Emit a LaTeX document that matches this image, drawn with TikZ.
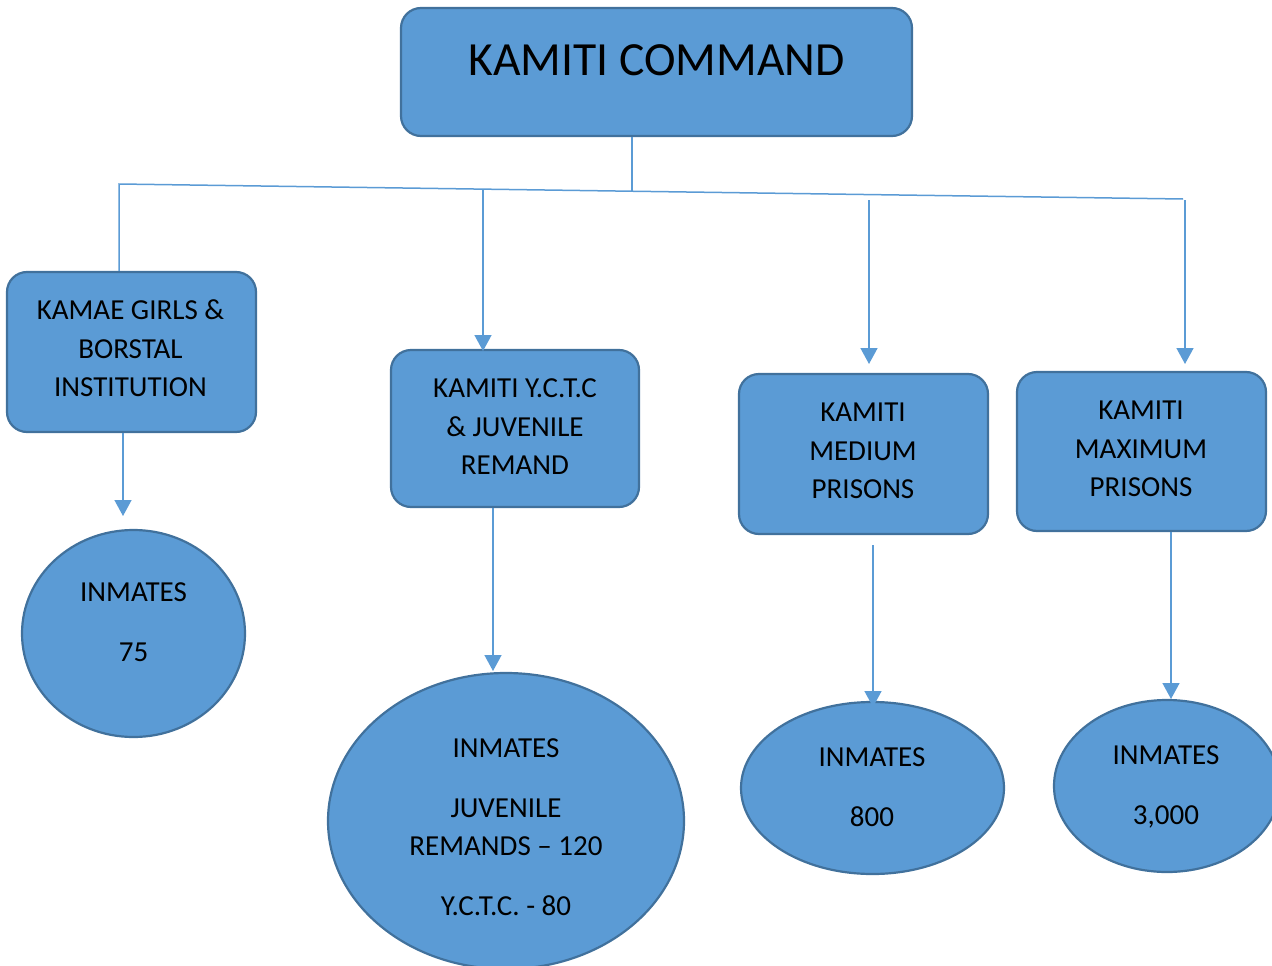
\documentclass[tikz,border=0pt]{standalone}
\usepackage{fontspec}
\setmainfont{Carlito}
\usetikzlibrary{arrows.meta,shapes.geometric}
\definecolor{boxfill}{HTML}{5B9BD5}
\definecolor{boxdraw}{HTML}{41719C}
\definecolor{connc}{HTML}{5B9BD5}
\begin{document}
\begin{tikzpicture}[x=1pt,y=-1pt,
  box/.style={draw=boxdraw, fill=boxfill, line width=2.2pt, rounded corners=20pt, inner sep=0pt},
  oval/.style={draw=boxdraw, fill=boxfill, line width=2.2pt, ellipse, inner sep=0pt},
  txt/.style={font=\fontsize{29}{38.5}\selectfont, align=center, anchor=base, inner sep=0pt},
  conn/.style={draw=connc, line width=1.5pt},
  arr/.style={conn, -{Triangle[width=17pt,length=16pt]}}]
\useasboundingbox (0,0) rectangle (1272,966);

% boxes
\node[box, minimum width=511pt, minimum height=128pt] (top) at (656.5,72) {};
\node[box, minimum width=249pt, minimum height=160pt] (b1) at (131.5,352) {};
\node[box, minimum width=248pt, minimum height=157pt] (b2) at (515,428.5) {};
\node[box, minimum width=249pt, minimum height=160pt] (b3) at (863.5,454) {};
\node[box, minimum width=249pt, minimum height=159pt] (b4) at (1141.5,451.5) {};

% ovals
\node[oval, minimum width=223pt, minimum height=207pt] (e1) at (133.5,633.5) {};
\node[oval, minimum width=356pt, minimum height=296pt] (e2) at (506,821) {};
\node[oval, minimum width=263pt, minimum height=172pt] (e3) at (872.5,788) {};
\node[oval, minimum width=226pt, minimum height=172pt] (e4) at (1167,786) {};

% texts (anchor = baseline of the last line)
\node[txt, font=\fontsize{47.6}{56}\selectfont] (ttop) at (656.5,76) {KAMITI COMMAND};
\node[txt] (t1) at (130.5,396.5) {KAMAE GIRLS \&\\BORSTAL\\INSTITUTION};
\node[txt] (t2) at (515,474.5) {KAMITI Y.C.T.C\\\& JUVENILE\\REMAND};
\node[txt] (t3) at (863,498.5) {KAMITI\\MEDIUM\\PRISONS};
\node[txt] (t4) at (1141,496.5) {KAMITI\\MAXIMUM\\PRISONS};
\node[txt] (te1) at (133.5,661.5) {INMATES\\[21.5pt]75};
\node[txt] (te2) at (506,915.5) {INMATES\\[21.5pt]JUVENILE\\REMANDS – 120\\[21.5pt]Y.C.T.C. - 80};
\node[txt] (te3) at (872,826.5) {INMATES\\[21.5pt]800};
\node[txt] (te4) at (1166,824.5) {INMATES\\[21.5pt]3,000};

% connector points
\coordinate (hl) at (119,184);
\coordinate (hr) at (1183,199);
\coordinate (tc) at (632,191.3);
\coordinate (h2) at (483,189.2);
\coordinate (s3) at (869,200);
\coordinate (s4) at (1185,200);
\coordinate (a2) at (483,351);
\coordinate (a3) at (869,364);
\coordinate (a4) at (1185,364);
\coordinate (d1) at (123,516);
\coordinate (d2) at (493,671);
\coordinate (u3) at (873,545);
\coordinate (d3) at (873,707);
\coordinate (d4) at (1171,699);

\draw[conn] (top.south -| tc) -- (tc);
\draw[conn] (b1.north -| hl) -- (hl) -- (hr);
\draw[arr] (h2) -- (a2);
\draw[arr] (s3) -- (a3);
\draw[arr] (s4) -- (a4);
\draw[arr] (b1.south -| d1) -- (d1);
\draw[arr] (b2.south -| d2) -- (d2);
\draw[arr] (u3) -- (d3);
\draw[arr] (b4.south -| d4) -- (d4);
\end{tikzpicture}
\end{document}
